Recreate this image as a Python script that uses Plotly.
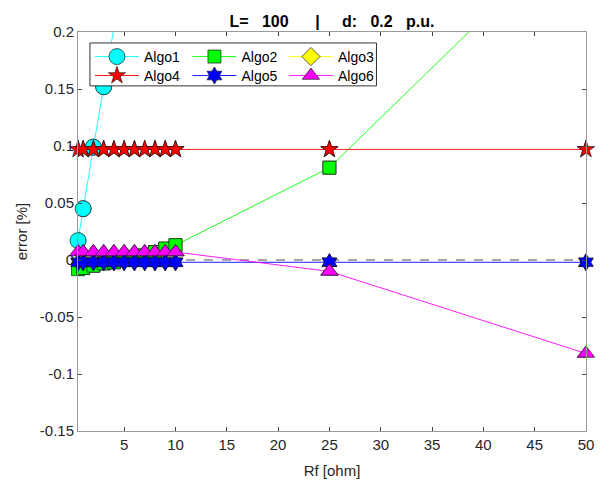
import numpy as np
import plotly.graph_objects as go

rf = [0.5, 1, 2, 3, 4, 5, 6, 7, 8, 9, 10, 25, 50]
algo1 = [0.017, 0.045, 0.099, 0.152, 0.206, 0.26, 0.31, 0.36, 0.41, 0.46, 0.51, 1.2, 2.4]
algo2 = [-0.008, -0.007, -0.005, -0.003, -0.002, 0.0, 0.002, 0.004, 0.007, 0.010, 0.013, 0.081, 0.30]
algo3 = [None] * 13
algo4 = [0.097] * 13
algo5 = [-0.002] * 13
algo6 = [0.007, 0.007, 0.007, 0.007, 0.007, 0.007, 0.007, 0.007, 0.007, 0.007, 0.007, -0.010, -0.082]

x_ticks = [5, 10, 15, 20, 25, 30, 35, 40, 45, 50]
y_ticks = [-0.15, -0.1, -0.05, 0, 0.05, 0.1, 0.15, 0.2]
y_ticklabels = ["-0.15", "-0.1", "-0.05", "0", "0.05", "0.1", "0.15", "0.2"]
x_range = [0.5, 50]
y_range = [-0.15, 0.2]

FONT = "Liberation Sans, Arial, sans-serif"
EDGE = dict(color="#1a1a1a", width=0.7)

PW, PH, PL, PT, PB = 510.6, 400, 78, 32, 432

# legend cells: left px of each column, center px of each row
col_x = [90, 188, 285]
row_c = [55, 74]

fig = go.Figure()

series = [
    ("Algo1", algo1, "#00ffff", "circle", 16),
    ("Algo2", algo2, "#00ff00", "square", 13),
    ("Algo3", algo3, "#ffff00", "diamond", 14),
    ("Algo4", algo4, "#ff0000", "star", 13),
    ("Algo5", algo5, "#0000ff", "hexagram", 13),
    ("Algo6", algo6, "#ff00ff", "triangle-up", 15),
]

legends = {}
for i, (name, ys, col, sym, size) in enumerate(series):
    lg = "legend" if i == 0 else f"legend{i + 1}"
    r, c = divmod(i, 3)
    legends[lg] = dict(bgcolor="rgba(0,0,0,0)", borderwidth=0, xanchor="left", yanchor="top",
                       font=dict(family=FONT, size=14, color="#000000"), itemwidth=44,
                       orientation="v", x=(col_x[c] - PL) / PW, y=(PB - (row_c[r] - 14)) / PH)
    fig.add_trace(go.Scatter(
        x=rf, y=ys, name=name, mode="lines+markers", legend=lg,
        line=dict(color=col, width=0.9),
        marker=dict(symbol=sym, size=size, color=col, line=EDGE),
        cliponaxis=True,
    ))
    # unclipped markers for points inside the y range (MATLAB draws edge markers fully)
    arr = np.array([np.nan if v is None else v for v in ys], dtype=float)
    mask = (arr >= y_range[0]) & (arr <= y_range[1])
    if mask.any():
        fig.add_trace(go.Scatter(
            x=np.array(rf)[mask], y=arr[mask], mode="markers", showlegend=False,
            marker=dict(symbol=sym, size=size, color=col, line=EDGE),
            cliponaxis=False, hoverinfo="skip",
        ))

# zero reference dashed line
fig.add_shape(type="line", xref="paper", yref="y", x0=0, x1=1, y0=0, y1=0,
              line=dict(color="#a6a6a6", width=2, dash="dash"), layer="below")

# legend box
fig.add_shape(type="rect", xref="paper", yref="paper",
              x0=(90 - PL) / PW, x1=(378 - PL) / PW,
              y0=(PB - 86) / PH, y1=(PB - 43) / PH,
              fillcolor="white", line=dict(color="#333333", width=1), layer="above")

nbsp = "\u00a0"
title_text = ("L=" + nbsp * 3 + "100" + nbsp * 6 + "|" + nbsp * 5 + "d:" + nbsp * 3 +
              "0.2" + nbsp * 3 + "p.u.")

fig.update_layout(
    width=606, height=489,
    margin=dict(l=PL, r=17, t=PT, b=57),
    paper_bgcolor="white", plot_bgcolor="white",
    font=dict(family=FONT, size=15, color="#262626"),
    title=dict(text="<b>" + title_text + "</b>", x=332 / 606, xanchor="center",
               y=1 - 21 / 489, yanchor="middle",
               font=dict(family=FONT, size=16, color="#000000")),
    xaxis=dict(range=x_range, tickvals=x_ticks, ticks="inside", ticklen=4, tickcolor="#444444",
               showline=True, linecolor="#9a9a9a", linewidth=1, mirror="ticks", showgrid=False,
               zeroline=False, tickfont=dict(size=15, color="#262626"),
               title=dict(text="Rf [ohm]", font=dict(size=15, color="#262626"), standoff=13)),
    yaxis=dict(range=y_range, tickvals=y_ticks, ticktext=y_ticklabels, ticks="inside", ticklen=4,
               tickcolor="#444444", showline=True, linecolor="#9a9a9a", linewidth=1, mirror="ticks",
               showgrid=False, zeroline=False, tickfont=dict(size=15, color="#262626"),
               title=dict(text="error [%]", font=dict(size=15, color="#262626"), standoff=8)),
    **legends,
)

fig.write_html("out.html")
